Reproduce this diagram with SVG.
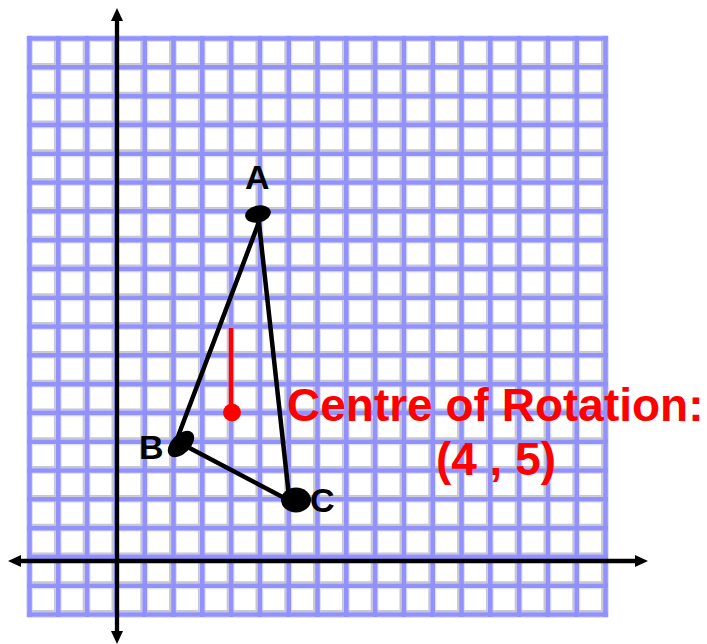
<svg xmlns="http://www.w3.org/2000/svg" width="707" height="644" viewBox="0 0 707 644">
<style>
.halo{fill:none;stroke:#e0e0ff;stroke-width:7}
.shadow{fill:none;stroke:#c8c8cc;stroke-width:1.8}
.grid{fill:none;stroke:#9292ff;stroke-width:4.6}
.axis{fill:none;stroke:#000;stroke-width:4.3}
.edge{fill:none;stroke:#000;stroke-width:4.5;stroke-linecap:round}
.dot{fill:#000}
.lbl{font-family:"Liberation Sans",Arial,sans-serif;font-weight:bold;font-size:34px;fill:#000}
.red{font-family:"Liberation Sans",Arial,sans-serif;font-weight:bold;font-size:46px;fill:#ff0000}
</style>
<defs>
<marker id="arr" viewBox="0 -6 13 12" refX="0" refY="0" markerWidth="13" markerHeight="12" markerUnits="userSpaceOnUse" orient="auto-start-reverse">
<path d="M0,-6L13,0L0,6z" fill="#000"/>
</marker>
</defs>
<rect width="707" height="644" fill="#fff"/>
<g id="grid">
<path class="halo" d="M29.5 36V617M58.3 36V617M87.1 36V617M115.9 36V617M144.7 36V617M173.5 36V617M202.3 36V617M231.1 36V617M259.9 36V617M288.7 36V617M317.5 36V617M346.3 36V617M375.1 36V617M403.9 36V617M432.7 36V617M461.5 36V617M490.3 36V617M519.1 36V617M547.9 36V617M576.7 36V617M605.5 36V617M27 38.5H608M27 67.3H608M27 96.1H608M27 124.9H608M27 153.7H608M27 182.5H608M27 211.3H608M27 240.1H608M27 268.9H608M27 297.7H608M27 326.5H608M27 355.3H608M27 384.1H608M27 412.9H608M27 441.7H608M27 470.5H608M27 499.3H608M27 528.1H608M27 556.9H608M27 585.7H608M27 614.5H608"/>
<path class="shadow" d="M54.8 38.5V614.5M83.6 38.5V614.5M112.4 38.5V614.5M141.2 38.5V614.5M170 38.5V614.5M198.8 38.5V614.5M227.6 38.5V614.5M256.4 38.5V614.5M285.2 38.5V614.5M314 38.5V614.5M342.8 38.5V614.5M371.6 38.5V614.5M400.4 38.5V614.5M429.2 38.5V614.5M458 38.5V614.5M486.8 38.5V614.5M515.6 38.5V614.5M544.4 38.5V614.5M573.2 38.5V614.5M602 38.5V614.5M29.5 63.8H605.5M29.5 92.6H605.5M29.5 121.4H605.5M29.5 150.2H605.5M29.5 179H605.5M29.5 207.8H605.5M29.5 236.6H605.5M29.5 265.4H605.5M29.5 294.2H605.5M29.5 323H605.5M29.5 351.8H605.5M29.5 380.6H605.5M29.5 409.4H605.5M29.5 438.2H605.5M29.5 467H605.5M29.5 495.8H605.5M29.5 524.6H605.5M29.5 553.4H605.5M29.5 582.2H605.5M29.5 611H605.5"/>
<path class="grid" d="M29.5 36V617M58.3 36V617M87.1 36V617M115.9 36V617M144.7 36V617M173.5 36V617M202.3 36V617M231.1 36V617M259.9 36V617M288.7 36V617M317.5 36V617M346.3 36V617M375.1 36V617M403.9 36V617M432.7 36V617M461.5 36V617M490.3 36V617M519.1 36V617M547.9 36V617M576.7 36V617M605.5 36V617M27 38.5H608M27 67.3H608M27 96.1H608M27 124.9H608M27 153.7H608M27 182.5H608M27 211.3H608M27 240.1H608M27 268.9H608M27 297.7H608M27 326.5H608M27 355.3H608M27 384.1H608M27 412.9H608M27 441.7H608M27 470.5H608M27 499.3H608M27 528.1H608M27 556.9H608M27 585.7H608M27 614.5H608"/>
</g>
<g id="axes">
<line class="axis" x1="117" y1="21" x2="117" y2="631" marker-start="url(#arr)" marker-end="url(#arr)"/>
<line class="axis" x1="21" y1="561" x2="635" y2="561" marker-start="url(#arr)" marker-end="url(#arr)"/>
</g>
<g id="connectors">
<line class="edge" x1="262" y1="214" x2="174" y2="447"/>
<line class="edge" x1="258" y1="214" x2="289.5" y2="501"/>
<line class="edge" x1="180" y1="443" x2="292" y2="502"/>
</g>
<g id="A">
<ellipse class="dot" cx="258" cy="214" rx="13" ry="8.5" transform="rotate(-12 258 214)"/>
<text class="lbl" x="245" y="189">A</text>
</g>
<g id="B">
<ellipse class="dot" cx="181" cy="444" rx="16" ry="9.5" transform="rotate(-45 181 444)"/>
<text class="lbl" x="139" y="459">B</text>
</g>
<g id="C">
<ellipse class="dot" cx="296" cy="500" rx="15" ry="12.5"/>
<text class="lbl" x="310" y="512">C</text>
</g>
<g id="centre">
<line x1="231" y1="328" x2="231" y2="412" stroke="#ff0000" stroke-width="4.5"/>
<circle cx="232" cy="412.5" r="9" fill="#ff0000"/>
<text class="red" x="287" y="421">Centre of Rotation:</text>
<text class="red" x="496" y="475" text-anchor="middle">(4 , 5)</text>
</g>
</svg>
